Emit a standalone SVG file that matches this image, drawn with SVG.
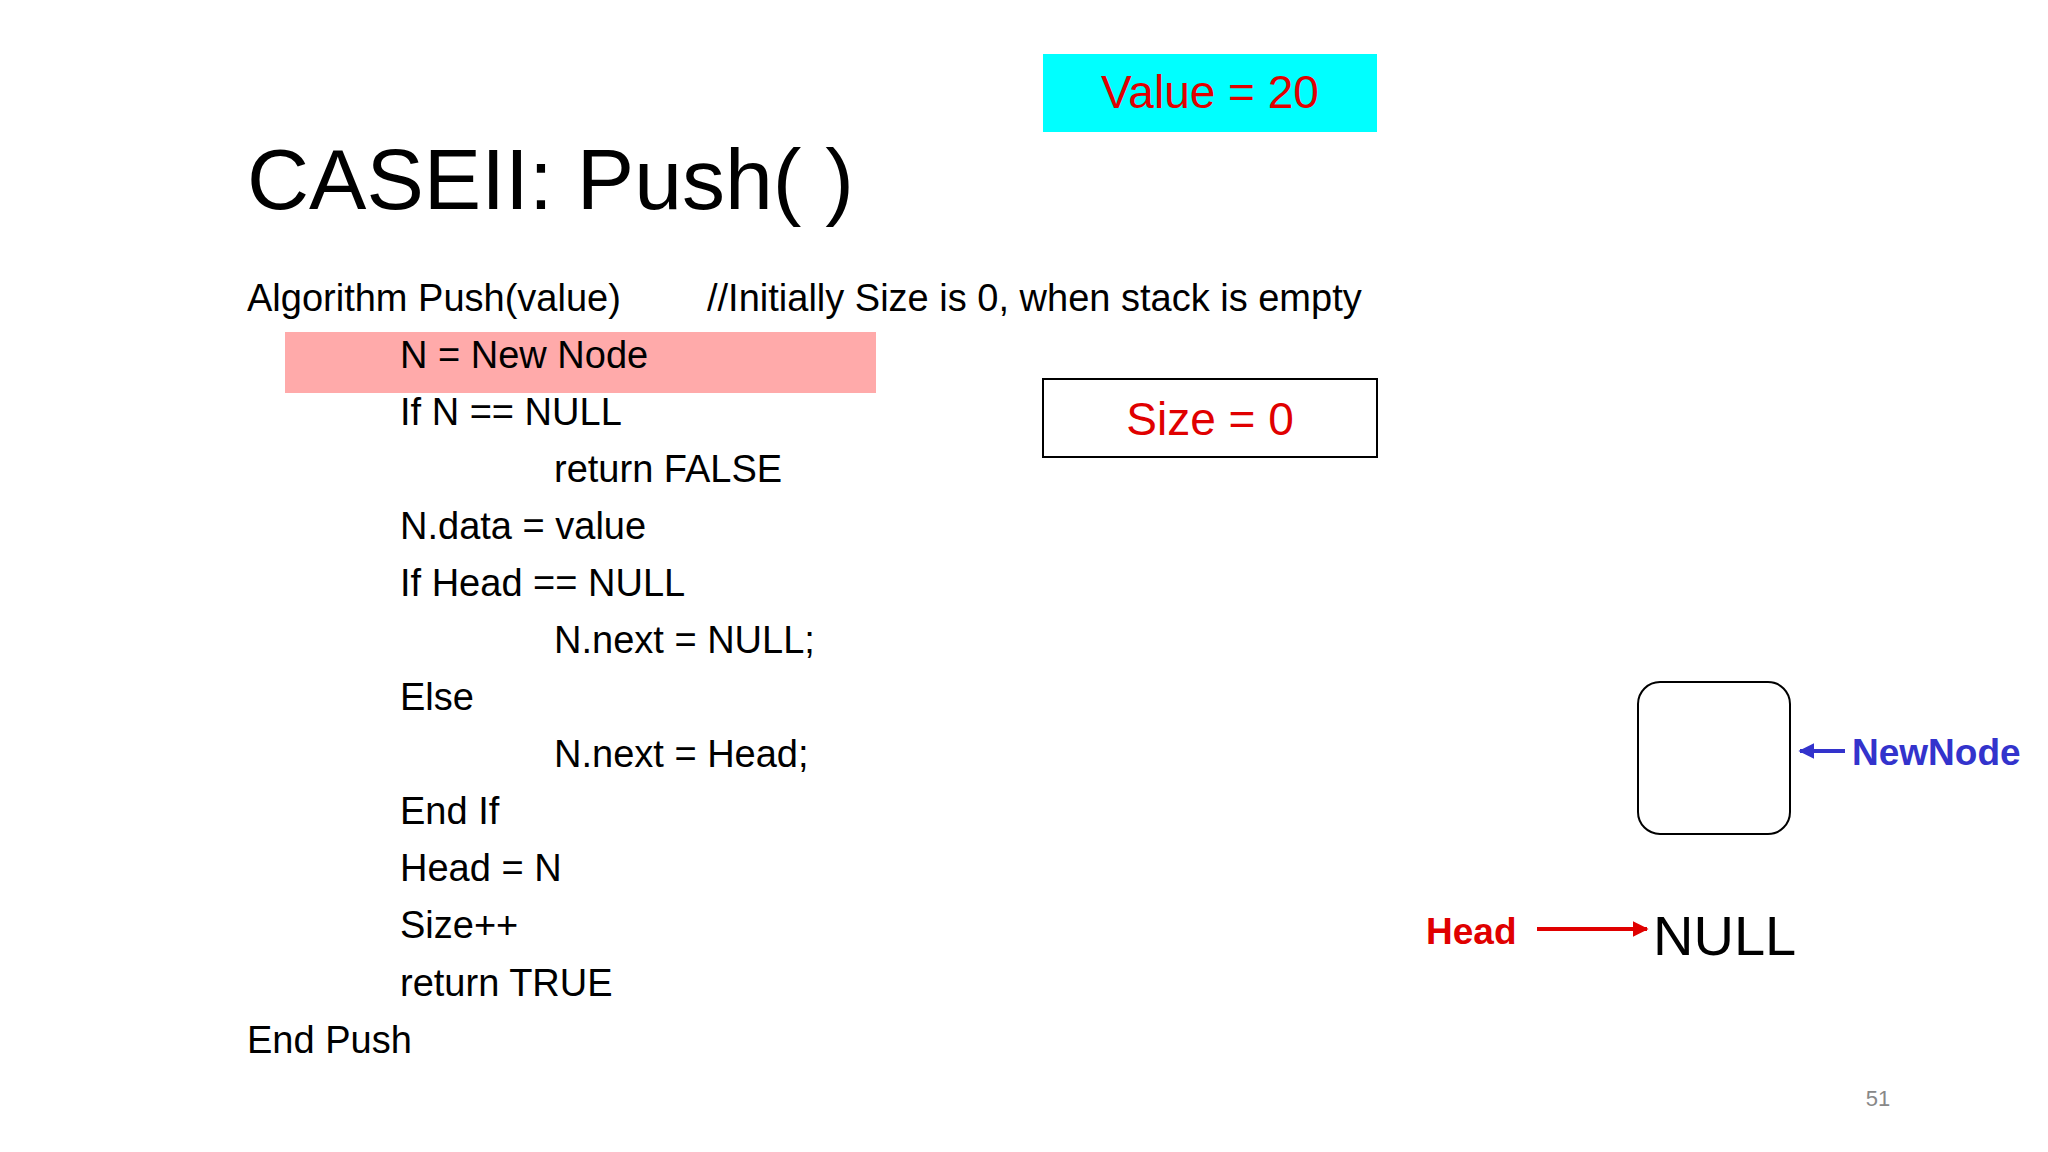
<svg xmlns="http://www.w3.org/2000/svg" width="2048" height="1152" viewBox="0 0 2048 1152">
<style>
text{font-family:"Liberation Sans","Open Sans",sans-serif}
.code{font-size:38px;fill:#000}
.red{fill:#e00000}
</style>
<defs>
<marker id="ab" viewBox="0 0 10 10" refX="9" refY="5" markerWidth="4" markerHeight="4" orient="auto"><path d="M0,0L10,5L0,10z" fill="#3333cc"/></marker>
<marker id="ar" viewBox="0 0 10 10" refX="9" refY="5" markerWidth="4" markerHeight="4" orient="auto"><path d="M0,0L10,5L0,10z" fill="#e00000"/></marker>
</defs>
<rect width="2048" height="1152" fill="#fff"/>
<g id="value"><rect x="1043" y="54" width="334" height="78" fill="#00ffff"/><text x="1210" y="108" text-anchor="middle" font-size="46" class="red">Value = 20</text></g>
<text x="247" y="209" font-size="86" fill="#000" font-family="Open Sans" font-weight="300">CASEII: Push( )</text>
<rect x="285" y="332" width="591" height="61" fill="#ffaaaa"/>
<g class="code">
<text x="247" y="311" class="code">Algorithm Push(value)</text>
<text x="707" y="311" class="code">//Initially Size is 0, when stack is empty</text>
<text x="400" y="368" class="code">N = New Node</text>
<text x="400" y="425" class="code">If N == NULL</text>
<text x="554" y="482" class="code">return FALSE</text>
<text x="400" y="539" class="code">N.data = value</text>
<text x="400" y="596" class="code">If Head == NULL</text>
<text x="554" y="653" class="code">N.next = NULL;</text>
<text x="400" y="710" class="code">Else</text>
<text x="554" y="767" class="code">N.next = Head;</text>
<text x="400" y="824" class="code">End If</text>
<text x="400" y="881" class="code">Head = N</text>
<text x="400" y="938" class="code">Size++</text>
<text x="400" y="996" class="code">return TRUE</text>
<text x="247" y="1053" class="code">End Push</text>
</g>
<g id="size"><rect x="1043" y="379" width="334" height="78" fill="#fff" stroke="#000" stroke-width="2"/><text x="1210" y="435" text-anchor="middle" font-size="46" class="red">Size = 0</text></g>
<g id="newnode"><rect x="1638" y="682" width="152" height="152" rx="22" fill="#fff" stroke="#000" stroke-width="2"/></g>
<g id="labels">
<text x="1852" y="765" font-size="37" font-weight="bold" fill="#3333cc">NewNode</text>
<text x="1426" y="944" font-size="37" font-weight="bold" class="red">Head</text>
<text x="1653" y="955" font-size="56" fill="#000">NULL</text>
</g>
<g id="connectors">
<line x1="1845" y1="751" x2="1800" y2="751" stroke="#3333cc" stroke-width="4" marker-end="url(#ab)"/>
<line x1="1537" y1="929" x2="1647" y2="929" stroke="#e00000" stroke-width="4" marker-end="url(#ar)"/>
</g>
<text x="1878" y="1106" text-anchor="middle" font-size="22" fill="#888">51</text>
</svg>
